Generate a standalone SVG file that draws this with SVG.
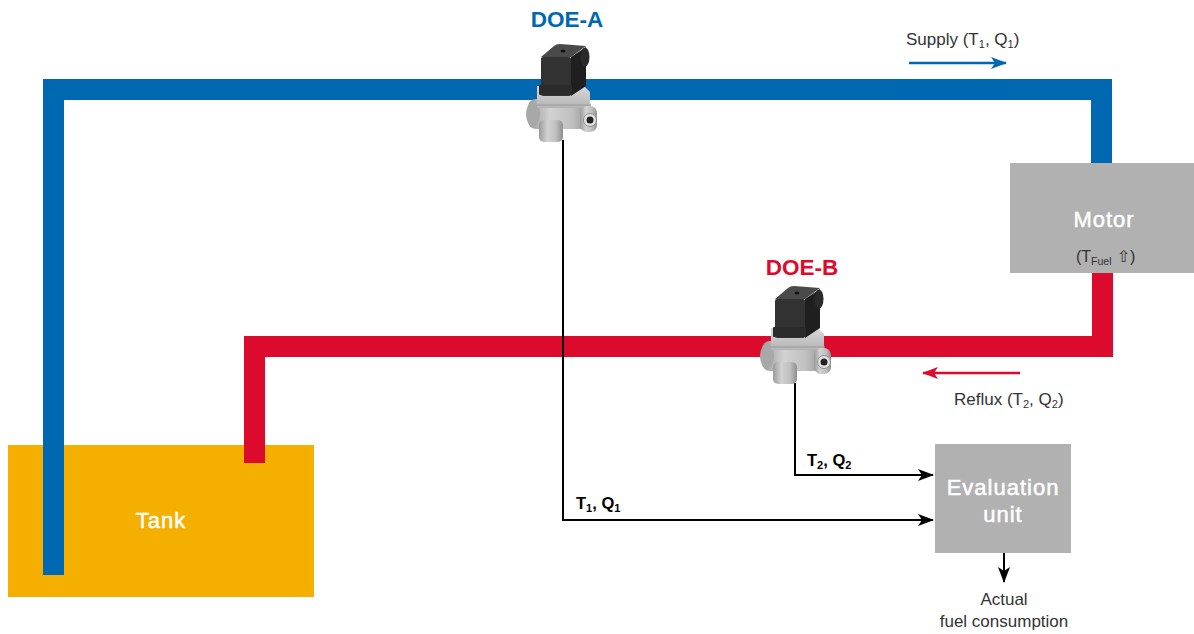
<svg xmlns="http://www.w3.org/2000/svg" width="1194" height="634" viewBox="0 0 1194 634">
  <style>
    text { font-family: "Liberation Sans", Arial, sans-serif; }
    .pipe { fill: none; stroke-width: 21; stroke-linejoin: miter; stroke-linecap: butt; }
    .blue { stroke: #0067b1; }
    .red { stroke: #dc0a2d; }
    .box { fill: #b1b1b1; }
    .boxlabel { fill: #ffffff; stroke: #ffffff; stroke-width: 0.5; font-size: 22px; letter-spacing: 1px; text-anchor: middle; }
    .sig { fill: none; stroke: #000; stroke-width: 2; }
    .lbl { fill: #333; font-size: 17px; }
    .sigl { fill: #000; font-size: 16.5px; font-weight: bold; }
    .doe { font-size: 22.5px; font-weight: bold; text-anchor: middle; }
  </style>
  <defs>
    <marker id="ahBlack" viewBox="0 0 16 12" refX="15" refY="6" markerWidth="16" markerHeight="12" markerUnits="userSpaceOnUse" orient="auto">
      <path d="M0,0 L16,6 L0,12 L4,6 Z" fill="#000"/>
    </marker>
    <marker id="ahBlue" viewBox="0 0 16 12" refX="15" refY="6" markerWidth="16" markerHeight="12" markerUnits="userSpaceOnUse" orient="auto">
      <path d="M0,0 L16,6 L0,12 L4,6 Z" fill="#0067b1"/>
    </marker>
    <marker id="ahRed" viewBox="0 0 16 12" refX="15" refY="6" markerWidth="16" markerHeight="12" markerUnits="userSpaceOnUse" orient="auto">
      <path d="M0,0 L16,6 L0,12 L4,6 Z" fill="#dc0a2d"/>
    </marker>
    <linearGradient id="metal" x1="0" y1="0" x2="1" y2="0">
      <stop offset="0" stop-color="#9a9a9a"/>
      <stop offset="0.35" stop-color="#d2d2d2"/>
      <stop offset="0.7" stop-color="#c0c0c0"/>
      <stop offset="1" stop-color="#8e8e8e"/>
    </linearGradient>
    <linearGradient id="metalTop" x1="0" y1="0" x2="0" y2="1">
      <stop offset="0" stop-color="#d8d8d8"/>
      <stop offset="1" stop-color="#b4b4b4"/>
    </linearGradient>
    <!-- flow sensor with plug connector -->
    <g id="sensor">
      <!-- lower housing -->
      <rect x="528" y="99" width="63" height="30" rx="8" fill="url(#metal)"/>
      <ellipse cx="533" cy="114" rx="7" ry="12" fill="#a8a8a8"/>
      <!-- upper housing -->
      <path d="M537,86 L584,86 L590,92 L590,108 L537,108 Z" fill="url(#metalTop)"/>
      <path d="M537,105 L590,105" stroke="#9c9c9c" stroke-width="1"/>
      <!-- outlet port -->
      <rect x="580" y="106" width="17" height="26" rx="7" fill="url(#metal)"/>
      <circle cx="590" cy="120" r="6.5" fill="#e2e2e2" stroke="#8a8a8a" stroke-width="1"/>
      <circle cx="590" cy="120" r="3.5" fill="#222"/>
      <!-- bottom stem -->
      <rect x="539" y="120" width="24" height="22" rx="5" fill="url(#metal)"/>
      <!-- connector -->
      <path d="M571,57 L586,47 L586,86 L571,96 Z" fill="#1f1f1f"/>
      <rect x="541" y="57" width="30" height="39" rx="2" fill="#323232"/>
      <path d="M541,57 L554,46 Q556,44 560,44 L586,46 L571,57 Z" fill="#4a4a4a"/>
      <ellipse cx="563" cy="51" rx="2.5" ry="1.6" fill="#111"/>
      <ellipse cx="585" cy="57" rx="4.5" ry="9.5" fill="#2a2a2a"/>
      <rect x="539" y="85" width="33" height="10" rx="1" fill="#2b2b2b"/>
    </g>
  </defs>

  <!-- tank -->
  <g id="tank">
    <rect x="8" y="445" width="306" height="152" fill="#f5af00"/>
    <text x="161" y="528" class="boxlabel">Tank</text>
  </g>

  <!-- fuel lines -->
  <g id="pipes">
    <path class="pipe blue" d="M53.5,575 V89.5 H1101.5 V163"/>
    <path class="pipe red" d="M254.5,463 V346.5 H1102.5 V273"/>
  </g>

  <!-- motor -->
  <g id="motor">
    <rect class="box" x="1010" y="163" width="184" height="110"/>
    <text x="1104" y="227" class="boxlabel">Motor</text>
    <text x="1076" y="262" fill="#333" font-size="16">(T<tspan font-size="10.5" dy="3">Fuel</tspan><tspan dy="-3" font-family="DejaVu Sans, sans-serif"> ⇧</tspan>)</text>
  </g>

  <!-- evaluation unit -->
  <g id="evaluation-unit">
    <rect class="box" x="935" y="444" width="136" height="109"/>
    <text x="1003" y="495" class="boxlabel">Evaluation</text>
    <text x="1003" y="522" class="boxlabel">unit</text>
  </g>

  <!-- signal lines -->
  <g id="connectors">
    <path class="sig" d="M563,140 V520 H933" marker-end="url(#ahBlack)"/>
    <path class="sig" d="M795,383 V475 H933" marker-end="url(#ahBlack)"/>
    <path class="sig" d="M1004,553 V582" marker-end="url(#ahBlack)"/>
    <path d="M909,63 H1006" stroke="#0067b1" stroke-width="2.5" fill="none" marker-end="url(#ahBlue)"/>
    <path d="M1020,373 H923" stroke="#dc0a2d" stroke-width="2.5" fill="none" marker-end="url(#ahRed)"/>
  </g>

  <!-- sensors -->
  <g id="doe-a">
    <use href="#sensor"/>
    <text x="567" y="27" class="doe" fill="#0067b1">DOE-A</text>
  </g>
  <g id="doe-b">
    <use href="#sensor" transform="translate(234,242)"/>
    <text x="802" y="275" class="doe" fill="#dc0a2d">DOE-B</text>
  </g>

  <!-- labels -->
  <g id="labels">
    <text x="906" y="45" class="lbl">Supply (T<tspan font-size="11" dy="3">1</tspan><tspan dy="-3">, Q</tspan><tspan font-size="11" dy="3">1</tspan><tspan dy="-3">)</tspan></text>
    <text x="954" y="405" class="lbl">Reflux (T<tspan font-size="11" dy="3">2</tspan><tspan dy="-3">, Q</tspan><tspan font-size="11" dy="3">2</tspan><tspan dy="-3">)</tspan></text>
    <text x="576" y="509" class="sigl">T<tspan font-size="11" dy="3">1</tspan><tspan dy="-3">, Q</tspan><tspan font-size="11" dy="3">1</tspan></text>
    <text x="807" y="466" class="sigl">T<tspan font-size="11" dy="3">2</tspan><tspan dy="-3">, Q</tspan><tspan font-size="11" dy="3">2</tspan></text>
    <text x="1004" y="605" class="lbl" text-anchor="middle">Actual</text>
    <text x="1004" y="627" class="lbl" text-anchor="middle">fuel consumption</text>
  </g>
</svg>
